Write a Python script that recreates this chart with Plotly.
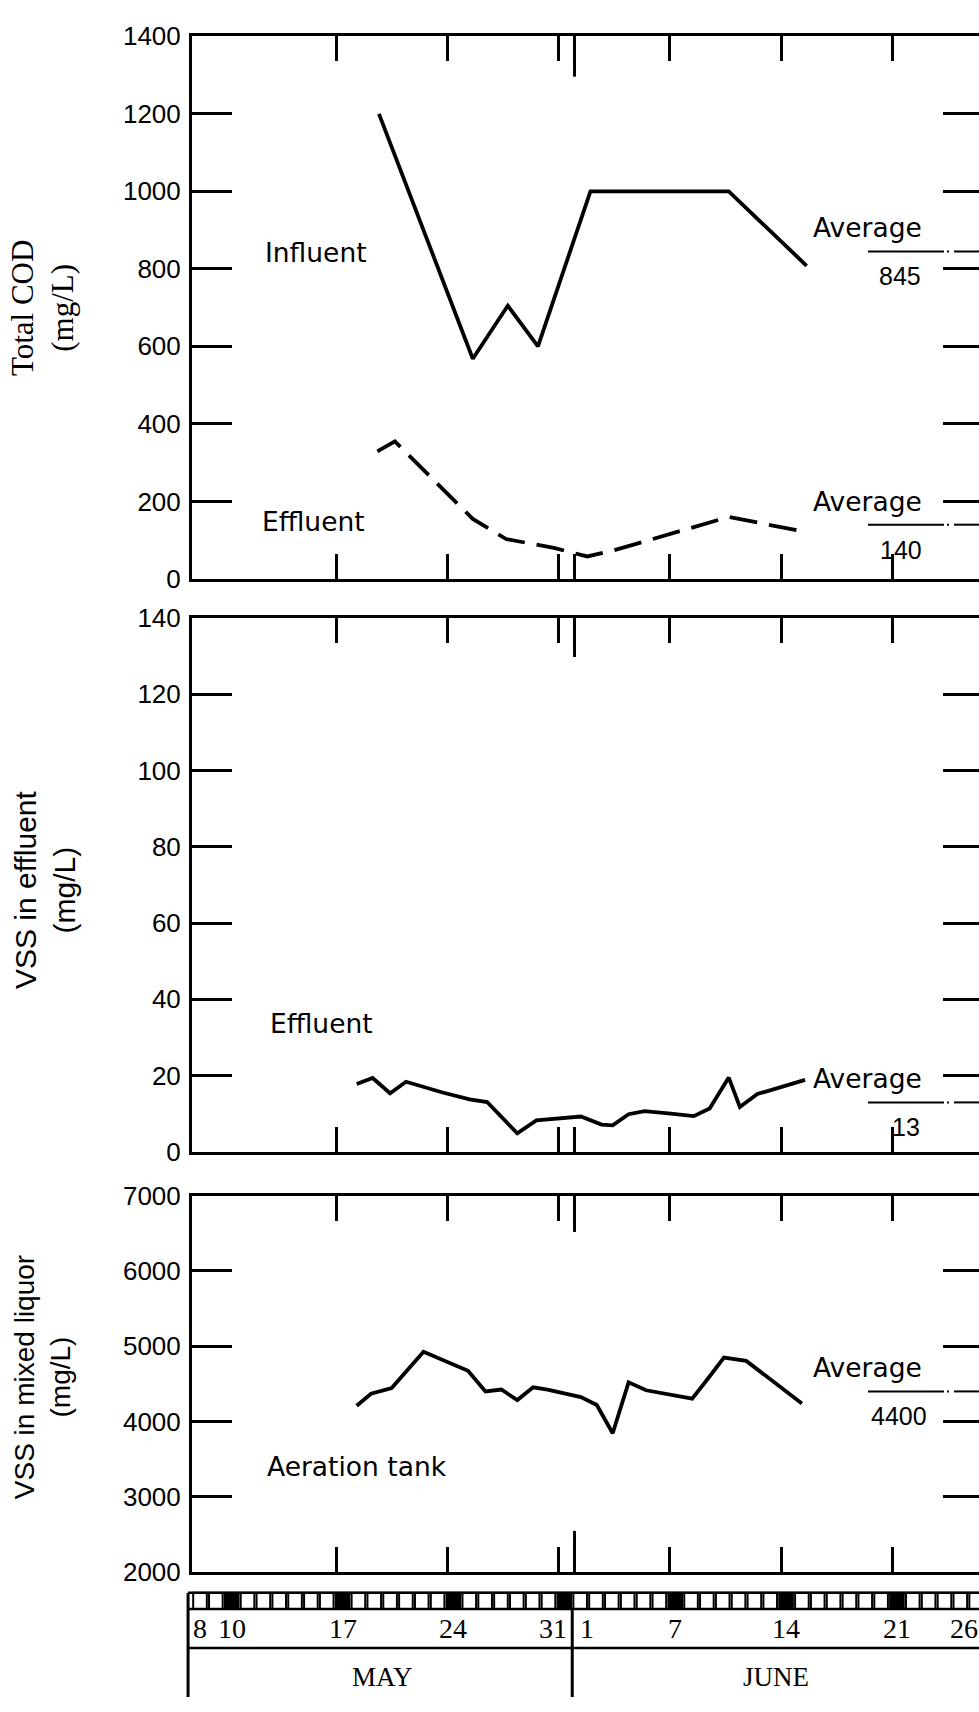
import plotly.graph_objects as go

# ---------------- data (day index: May d -> d, June d -> 31 + d) ----------------
inf_day = [19.7, 25.6, 27.8, 29.7, 33.0, 41.7, 46.6]
inf_cod = [1200, 568, 705, 600, 1000, 1000, 808]

eff_day = [19.6, 20.7, 25.6, 27.7, 30.7, 32.8, 34.4, 38.0, 41.7, 46.7]
eff_cod = [329, 355, 155, 103, 80, 58, 73, 116, 160, 120]

vss_eff_day = [18.3, 19.3, 20.4, 21.4, 23.7, 25.4, 26.5, 28.4, 29.6, 31.1, 32.4, 33.7,
               34.4, 35.4, 36.4, 37.9, 39.5, 40.5, 41.7, 42.4, 43.5, 44.4, 46.5]
vss_eff = [17.8, 19.4, 15.4, 18.4, 15.6, 13.8, 13.1, 4.9, 8.3, 8.9, 9.3, 7.2,
           7.0, 9.9, 10.7, 10.1, 9.4, 11.4, 19.5, 11.8, 15.2, 16.3, 18.9]

mlvss_day = [18.3, 19.2, 20.5, 21.4, 22.5, 25.3, 26.4, 27.4, 28.4, 29.4, 30.3,
             32.4, 33.4, 34.4, 35.4, 36.5, 39.4, 40.3, 41.4, 42.8, 46.3]
mlvss = [4210, 4370, 4445, 4655, 4925, 4675, 4400, 4425, 4285, 4455, 4425,
         4325, 4220, 3845, 4520, 4415, 4305, 4545, 4850, 4805, 4240]

avg_cod = [845, 140]
avg_vss_eff = [13]
avg_mlvss = [4400]

strip_days = list(range(8, 58))
sundays = [10, 17, 24, 31, 38, 45, 52]
date_label_days = [8, 10, 17, 24, 31, 32, 38, 45, 52, 57]
date_labels = ["8", "10", "17", "24", "31", "1", "7", "14", "21", "26"]
month_names = ["MAY", "JUNE"]
month_split = 31.5
week_ticks = [17, 24, 31, 32, 38, 45, 52]
june1 = 32

# ---------------- layout geometry ----------------
W, H = 979, 1712
LM = 192
XR = [7.94, 57.44]
XR_STRIP = [7.494, 57.18]


def py(px):
    return 1 - px / H


dom1 = [py(574), py(21.7)]
dom2 = [py(1157.3), py(613.5)]
dom3 = [py(1585), py(1201.6)]
dom4 = [0, py(1603)]

BLACK = "black"
NUMFONT = "Liberation Sans, Arial, sans-serif"
TXTFONT = "DejaVu Sans, Verdana, sans-serif"
SERIF = "Liberation Serif, Times New Roman, serif"
SANS = "Liberation Sans, Arial, sans-serif"

fig = go.Figure()

# data lines
fig.add_trace(go.Scatter(x=inf_day, y=inf_cod, mode="lines", xaxis="x", yaxis="y",
                         line=dict(color=BLACK, width=3.8), showlegend=False))
fig.add_trace(go.Scatter(x=eff_day, y=eff_cod, mode="lines", xaxis="x", yaxis="y",
                         line=dict(color=BLACK, width=3.8, dash="28px,12px"), showlegend=False))
fig.add_trace(go.Scatter(x=vss_eff_day, y=vss_eff, mode="lines", xaxis="x2", yaxis="y2",
                         line=dict(color=BLACK, width=3.8), showlegend=False))
fig.add_trace(go.Scatter(x=mlvss_day, y=mlvss, mode="lines", xaxis="x3", yaxis="y3",
                         line=dict(color=BLACK, width=3.8), showlegend=False))

# average marker lines ("fraction bar" + dash-dot tail)
AVG_X = [50.46, 55.24, None, 55.43, 55.55, None, 55.87, 57.44]


def avg_line(v, xa, ya):
    ys = [v, v, None, v, v, None, v, v]
    fig.add_trace(go.Scatter(x=AVG_X, y=ys, mode="lines", xaxis=xa, yaxis=ya,
                             line=dict(color=BLACK, width=2), showlegend=False,
                             hoverinfo="skip"))


for v in avg_cod:
    avg_line(v, "x", "y")
for v in avg_vss_eff:
    avg_line(v, "x2", "y2")
for v in avg_mlvss:
    avg_line(v, "x3", "y3")

# dummy traces for right-hand tick axes
for xa, ya in [("x", "y5"), ("x2", "y6"), ("x3", "y7")]:
    fig.add_trace(go.Scatter(x=[], y=[], xaxis=xa, yaxis=ya, showlegend=False))

# calendar strip
fig.add_trace(go.Bar(
    x=strip_days, y=[16.5] * len(strip_days), base=[89.5] * len(strip_days),
    width=0.86, xaxis="x4", yaxis="y4",
    marker=dict(color=[BLACK if d in sundays else "white" for d in strip_days],
                line=dict(color=BLACK, width=2)),
    showlegend=False, hoverinfo="skip"))

# ---------------- axes ----------------
xcommon = dict(range=XR, showgrid=False, zeroline=False, showline=True, linewidth=3,
               linecolor=BLACK, mirror="ticks", ticks="inside", ticklen=25, tickwidth=3,
               tickcolor=BLACK, tickvals=week_ticks, showticklabels=False)
ycommon = dict(showgrid=False, zeroline=False, showline=True, linewidth=3, linecolor=BLACK,
               ticks="inside", ticklen=40, tickwidth=3, tickcolor=BLACK,
               tickfont=dict(family=NUMFONT, size=26, color=BLACK), ticklabelstandoff=3)
rcommon = dict(showgrid=False, zeroline=False, showline=False, ticks="inside", ticklen=36,
               tickwidth=3, tickcolor=BLACK, showticklabels=False, side="right")

fig.update_layout(
    xaxis=dict(anchor="y", **xcommon),
    xaxis2=dict(anchor="y2", **xcommon),
    xaxis3=dict(anchor="y3", **xcommon),
    xaxis4=dict(anchor="y4", range=XR_STRIP, visible=False),
    yaxis=dict(anchor="x", domain=dom1, range=[0, 1400], tickvals=list(range(0, 1401, 200)), **ycommon),
    yaxis2=dict(anchor="x2", domain=dom2, range=[0, 140], tickvals=list(range(0, 141, 20)), **ycommon),
    yaxis3=dict(anchor="x3", domain=dom3, range=[2000, 7000], tickvals=list(range(2000, 7001, 1000)), **ycommon),
    yaxis4=dict(anchor="x4", domain=dom4, range=[0, 109], visible=False),
    yaxis5=dict(anchor="x", overlaying="y", range=[0, 1400], tickvals=list(range(200, 1201, 200)), **rcommon),
    yaxis6=dict(anchor="x2", overlaying="y2", range=[0, 140], tickvals=list(range(20, 121, 20)), **rcommon),
    yaxis7=dict(anchor="x3", overlaying="y3", range=[2000, 7000], tickvals=list(range(3000, 6001, 1000)), **rcommon),
    width=W, height=H, margin=dict(l=LM, r=0, t=0, b=0),
    paper_bgcolor="white", plot_bgcolor="white", showlegend=False,
)

# ---------------- shapes ----------------
shapes = []
# long June-1 ticks
for xa, ya, y0, y1 in [("x", "y", 1, 1 - 41 / 552), ("x2", "y2", 1, 1 - 40 / 544),
                       ("x3", "y3", 1, 1 - 37 / 383), ("x3", "y3", 0, 42 / 383)]:
    shapes.append(dict(type="line", xref=xa, yref=ya + " domain", x0=june1, x1=june1,
                       y0=y0, y1=y1, line=dict(color=BLACK, width=3)))
# calendar frame
for yv in [106, 89.5, 50]:
    shapes.append(dict(type="line", xref="x4 domain", yref="y4", x0=-0.005, x1=1, y0=yv, y1=yv,
                       line=dict(color=BLACK, width=2.5)))
shapes.append(dict(type="line", xref="x4 domain", yref="y4", x0=-0.005, x1=-0.005, y0=0, y1=106,
                   line=dict(color=BLACK, width=3)))
shapes.append(dict(type="line", xref="x4", yref="y4", x0=month_split, x1=month_split, y0=0, y1=89.5,
                   line=dict(color=BLACK, width=3)))
fig.update_layout(shapes=shapes)

# ---------------- annotations ----------------
ann = []


def txt(text, x, y, xa, ya, size=26.5, family=TXTFONT, **kw):
    d = dict(text=text, x=x, y=y, xref=xa, yref=ya, showarrow=False,
             font=dict(family=family, size=size, color=BLACK))
    d.update(kw)
    ann.append(d)


txt("Influent", 12.4, 841, "x", "y", xanchor="left", yanchor="middle")
txt("Effluent", 12.2, 149, "x", "y", xanchor="left", yanchor="middle")
txt("Effluent", 12.7, 33.6, "x2", "y2", xanchor="left", yanchor="middle")
txt("Aeration tank", 12.5, 3400, "x3", "y3", xanchor="left", yanchor="middle")

for v, xa, ya, vx in [(avg_cod[0], "x", "y", 52.45), (avg_cod[1], "x", "y", 52.55),
                      (avg_vss_eff[0], "x2", "y2", 52.85), (avg_mlvss[0], "x3", "y3", 52.4)]:
    txt("Average", 50.4, v, xa, ya, xanchor="center", yanchor="bottom", yshift=6)
    txt(str(v), vx, v, xa, ya, size=25, family=NUMFONT, xanchor="center", yanchor="top", yshift=-9)

# y-axis titles
txt("Total COD<br>(mg/L)", -0.19, (dom1[0] + dom1[1]) / 2, "paper", "paper", size=31,
    family=SERIF, textangle=-90, xanchor="center", yanchor="middle")
txt("VSS in effluent<br>(mg/L)", -0.186, py(890), "paper", "paper", size=30,
    family=SANS, textangle=-90, xanchor="center", yanchor="middle")
txt("VSS in mixed liquor<br>(mg/L)", -0.19, py(1386), "paper", "paper", size=28,
    family=SANS, textangle=-90, xanchor="center", yanchor="middle")

# calendar labels
for d, lab in zip(date_label_days, date_labels):
    kw = dict(xanchor="center", xshift=0)
    if d == month_split - 0.5:
        kw = dict(xanchor="right", xshift=-3)
        d = month_split
    elif d == month_split + 0.5:
        kw = dict(xanchor="left", xshift=6)
        d = month_split
    elif d == date_label_days[-1]:
        kw = dict(xanchor="center", xshift=-12)
    txt(lab, d, 70, "x4", "y4", size=28, family=SERIF, yanchor="middle", **kw)
month_x = [(XR_STRIP[0] + month_split) / 2, (month_split + XR_STRIP[1]) / 2]
for m, mx in zip(month_names, month_x):
    txt(m, mx, 20, "x4", "y4", size=27, family=SERIF, xanchor="center", yanchor="middle")

fig.update_layout(annotations=ann)

fig.write_html("out.html")
